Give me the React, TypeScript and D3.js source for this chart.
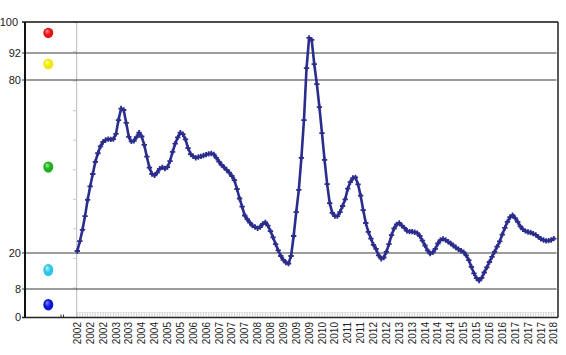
import React from 'react';
import * as d3 from 'd3';

const values: number[] = [
  20.7, 24.1, 28.0, 32.8, 38.4, 43.1, 47.4, 51.6, 54.6, 57.0,
  58.5, 59.2, 59.5, 59.4, 59.5, 61.3, 66.1, 70.1, 69.6, 65.1,
  60.3, 58.7, 58.9, 60.2, 61.7, 60.4, 57.5, 53.4, 49.6, 47.4,
  46.9, 47.9, 49.2, 49.7, 49.3, 49.8, 51.9, 55.1, 57.9, 60.1,
  61.7, 61.2, 59.4, 56.4, 54.3, 53.5, 53.0, 53.3, 53.5, 53.8,
  54.1, 54.4, 54.5, 54.2, 53.0, 51.7, 50.6, 49.7, 48.8, 47.9,
  46.7, 45.3, 42.2, 38.9, 36.1, 33.0, 31.7, 30.5, 29.5, 29.0,
  28.6, 29.0, 30.1, 30.6, 29.5, 27.6, 25.4, 23.1, 20.9, 19.0,
  17.7, 16.8, 16.5, 19.0, 25.9, 34.2, 41.9, 53.0, 66.1, 85.3,
  95.9, 95.4, 87.1, 78.6, 70.6, 61.6, 52.3, 43.9, 37.3, 33.9,
  32.8, 32.8, 34.2, 36.3, 38.6, 42.3, 44.6, 46.0, 46.2, 43.8,
  39.9, 34.9, 30.4, 27.3, 25.0, 22.8, 21.4, 19.2, 18.1, 18.5,
  20.4, 23.1, 26.2, 28.5, 29.9, 30.4, 29.5, 28.7, 27.7, 27.4,
  27.4, 27.2, 26.9, 25.9, 24.3, 22.6, 20.9, 19.8, 20.2, 21.4,
  23.3, 24.5, 24.9, 24.5, 23.9, 23.3, 22.6, 21.9, 21.3, 20.8,
  20.3, 19.2, 17.6, 15.4, 13.2, 11.6, 10.8, 11.7, 13.5, 15.2,
  17.0, 18.7, 20.4, 22.2, 24.0, 26.4, 28.7, 30.8, 32.4, 33.1,
  32.1, 30.8, 29.2, 28.2, 27.6, 27.3, 27.1, 26.7, 26.3, 25.6,
  24.9, 24.5, 24.2, 24.3, 24.5, 25.0,
];

const tickLabels: string[] = [
  '2002', '2002', '2002', '2003', '2003', '2004', '2004', '2005', '2005', '2006',
  '2006', '2007', '2007', '2007', '2008', '2008', '2009', '2009', '2009', '2010',
  '2010', '2011', '2011', '2012', '2012', '2013', '2013', '2014', '2014', '2014',
  '2015', '2015', '2016', '2016', '2017', '2017', '2017', '2018',
];

const zoneLevels: number[] = [0, 8, 20, 80, 92, 100];
const gridLevels: number[] = [8, 20, 80, 92];
const dotValues: number[] = [97.2, 87.1, 49.8, 14.3, 3.6];
const dotColors: string[] = ['#e81010', '#f0e800', '#1fae1f', '#30c4e6', '#0a14d8'];
const dotLights: string[] = ['#ff9a9a', '#ffffb0', '#9cf09c', '#b8f4ff', '#7f8cff'];
const dotRy: number[] = [5.2, 5.2, 5.6, 6.2, 5.8];

const W = 566;
const H = 355;
const left = 25;
const right = 558;
const top = 22;
const bottom = 317.5;
const tickStep = 5;

export default function App() {
  const y = d3.scaleLinear().domain(zoneLevels).range([bottom, 289, 253, 80, 53, top]);
  const x = d3.scaleLinear().domain([0, values.length - 1]).range([77.3, 553.8]);
  const yLin = d3.scaleLinear().domain([0, 100]).range([bottom, top]);
  const line = d3.line<number>().x((_, i) => x(i)).y((d) => y(d));
  const marker = d3.symbol(d3.symbolCross, 16)() as string;
  const lineColor = '#2b2d8c';
  const font = 'Liberation Sans, Arial, sans-serif';

  return (
    <svg width={W} height={H} style={{ position: 'absolute', left: 0, top: 0, background: '#fff' }}>
      <defs>
        {dotColors.map((c, i) => (
          <radialGradient key={i} id={`g${i}`} cx="50%" cy="50%" r="55%" fx="35%" fy="30%">
            <stop offset="0%" stopColor={dotLights[i]} />
            <stop offset="55%" stopColor={c} />
            <stop offset="100%" stopColor={c} />
          </radialGradient>
        ))}
      </defs>

      {/* secondary faint axis */}
      <line x1={76.7} x2={76.7} y1={top} y2={bottom} stroke="#b8b8b8" strokeWidth={1} />
      {yLin.ticks(10).map((t) => (
        <line key={t} x1={73} x2={76.7} y1={yLin(t)} y2={yLin(t)} stroke="#c8c8c8" strokeWidth={1} />
      ))}

      {/* x minor ticks band */}
      {values.map((_, i) => (
        <line key={i} x1={x(i)} x2={x(i)} y1={312.5} y2={316.5} stroke="#c4c4c4" strokeWidth={0.8} />
      ))}
      <line x1={76.7} x2={556} y1={312.5} y2={312.5} stroke="#d4d4d4" strokeWidth={0.6} />

      {/* zone grid lines */}
      {gridLevels.map((v) => (
        <line key={v} x1={22} x2={556.5} y1={y(v)} y2={y(v)} stroke="#3a3a3a" strokeWidth={1.2} />
      ))}
      <line x1={22} x2={right} y1={top} y2={top} stroke="#111" strokeWidth={1.5} />
      <line x1={right} x2={right} y1={top} y2={bottom} stroke="#222" strokeWidth={1.5} />
      <line x1={22} x2={right} y1={bottom} y2={bottom} stroke="#222" strokeWidth={1.5} />
      <line x1={left} x2={left} y1={top} y2={bottom} stroke="#111" strokeWidth={2} />
      <path d="M61,314.5V317M63.5,314.5V317" stroke="#333" strokeWidth={1} />

      {/* y labels */}
      {zoneLevels.map((v) => (
        <text key={v} x={v === 100 ? 18 : 21} y={y(v)} dy="0.35em" textAnchor="end"
          fontFamily={font} fontSize={11} fill="#222">{v}</text>
      ))}

      {/* zone dots */}
      {dotValues.map((v, i) => (
        <ellipse key={i} cx={48.3} cy={y(v)} rx={5} ry={dotRy[i]} fill={`url(#g${i})`} />
      ))}

      {/* x labels */}
      {tickLabels.map((t, k) => (
        <text key={k} transform={`translate(${x(k * tickStep) + 3.6},322) rotate(-90)`} textAnchor="end"
          fontFamily={font} fontSize={10} fill="#222">{t}</text>
      ))}

      {/* series */}
      <path d={line(values) as string} fill="none" stroke={lineColor} strokeWidth={2.6} strokeLinejoin="round" />
      {values.map((v, i) => (
        <path key={i} d={marker} transform={`translate(${x(i)},${y(v)})`} fill={lineColor} />
      ))}
    </svg>
  );
}
